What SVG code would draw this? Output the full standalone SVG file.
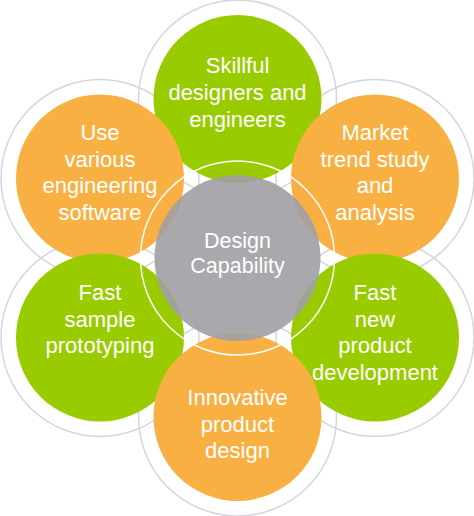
<svg xmlns="http://www.w3.org/2000/svg" width="474" height="516" viewBox="0 0 474 516">
<style>
.ring{fill:none;stroke:#d3d6df;stroke-width:1.5}
.g{fill:#99cc00}
.o{fill:#f9b043}
.t{font-family:"Liberation Sans",Arial,sans-serif;font-size:22px;fill:#ffffff;text-anchor:middle}
</style>
<rect width="474" height="516" fill="#ffffff"/>
<g id="rings">
<circle class="ring" cx="237.5" cy="99" r="99"/>
<circle class="ring" cx="100" cy="178.5" r="99"/>
<circle class="ring" cx="375" cy="178.5" r="99"/>
<circle class="ring" cx="100" cy="337.5" r="99"/>
<circle class="ring" cx="375" cy="337.5" r="99"/>
<circle class="ring" cx="237.5" cy="417" r="99"/>
</g>
<g id="n-skillful">
<circle class="g" cx="237.5" cy="99" r="84"/>
<text class="t" x="237.5" y="73">Skillful</text>
<text class="t" x="237.5" y="100">designers and</text>
<text class="t" x="237.5" y="127">engineers</text>
</g>
<g id="n-software">
<circle class="o" cx="100" cy="178.5" r="84"/>
<text class="t" x="100" y="140">Use</text>
<text class="t" x="100" y="167">various</text>
<text class="t" x="100" y="193">engineering</text>
<text class="t" x="100" y="220">software</text>
</g>
<g id="n-market">
<circle class="o" cx="375" cy="178.5" r="84"/>
<text class="t" x="375" y="140">Market</text>
<text class="t" x="375" y="167">trend study</text>
<text class="t" x="375" y="193">and</text>
<text class="t" x="375" y="220">analysis</text>
</g>
<g id="n-prototyping">
<circle class="g" cx="100" cy="337.5" r="84"/>
<text class="t" x="100" y="300">Fast</text>
<text class="t" x="100" y="327">sample</text>
<text class="t" x="100" y="353">prototyping</text>
</g>
<g id="n-development">
<circle class="g" cx="375" cy="337.5" r="84"/>
<text class="t" x="375" y="300">Fast</text>
<text class="t" x="375" y="327">new</text>
<text class="t" x="375" y="353">product</text>
<text class="t" x="375" y="380">development</text>
</g>
<g id="n-innovative">
<circle class="o" cx="237.5" cy="417" r="84"/>
<text class="t" x="237.5" y="405">Innovative</text>
<text class="t" x="237.5" y="432">product</text>
<text class="t" x="237.5" y="458">design</text>
</g>
<g id="n-center">
<circle cx="237.5" cy="258" r="97" fill="none" stroke="#ffffff" stroke-width="1.5"/>
<circle cx="237.5" cy="258" r="83" fill="#a0a0a4" fill-opacity="0.9"/>
<text class="t" x="237.5" y="248" style="font-size:21.5px">Design</text>
<text class="t" x="237.5" y="273" style="font-size:21.5px">Capability</text>
</g>
<g id="connectors"/>
</svg>
